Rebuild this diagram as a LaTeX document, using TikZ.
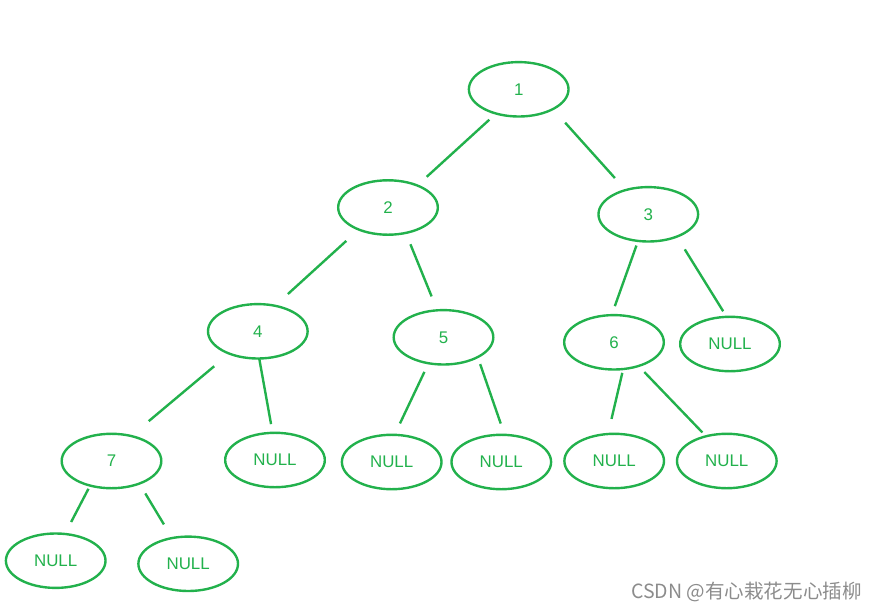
\documentclass[tikz,border=0pt]{standalone}
\usepackage{fontspec}
\setmainfont{Liberation Sans}
\newfontfamily\cjkfont{Noto Sans CJK SC}
\usetikzlibrary{shapes.geometric}
\definecolor{paintgreen}{RGB}{34,177,76}

\begin{document}
\begin{tikzpicture}[x=0.025cm,y=-0.025cm,
    treenode/.style={ellipse,draw=paintgreen,line width=1.7pt,
        minimum width=2.49cm,minimum height=1.36cm,inner sep=0pt,outer sep=0pt,
        text=paintgreen,font=\fontsize{12}{14}\selectfont},
    branch/.style={draw=paintgreen,line width=1.7pt}]

\useasboundingbox (0,0) rectangle (877,612);

% keys
\node[treenode] (n1) at (518.7,89.3)  {1};
\node[treenode] (n2) at (388,207.5)   {2};
\node[treenode] (n3) at (648.3,214.3) {3};
\node[treenode] (n4) at (257.8,331.3) {4};
\node[treenode] (n5) at (443.5,337.3) {5};
\node[treenode] (n6) at (614,342.3)   {6};
\node[treenode] (n7) at (111.5,461)   {7};

% null leaves
\node[treenode] (null3r) at (730,344)     {NULL};
\node[treenode] (null4r) at (275,460)     {NULL};
\node[treenode] (null5l) at (391.7,462)   {NULL};
\node[treenode] (null5r) at (501.3,462)   {NULL};
\node[treenode] (null6l) at (614.2,461)   {NULL};
\node[treenode] (null6r) at (726.8,461)   {NULL};
\node[treenode] (null7l) at (55.7,560.7)  {NULL};
\node[treenode] (null7r) at (188.2,563.8) {NULL};

% branches
\foreach \a/\p/\b/\q/\s/\t in {
    n1/227/n2/37/6.5/9.1,        n1/330/n3/133/13.0/11.5,
    n2/217/n4/56/12.0/12.4,      n2/305/n5/103/8.7/10.7,
    n3/249/n6/95/3.5/6.8,        n3/322/null3r/97/10.7/4.7,
    n4/218/n7/52/14.0/16.4,      n4/273/null4r/95/0/6.3,
    n5/240/null5l/84/6.8/9.0,    n5/330/null5r/83/5.3/8.5,
    n6/289/null6l/103/2.8/11.0,  n6/316/null6r/130/6.0/3.8,
    n7/229/null7l/71/2.6/9.6,    n7/321/null7r/122/8.2/11.3}
    \draw[branch,shorten <=\s pt,shorten >=\t pt] (\a.\p) -- (\b.\q);

% watermark
\node[anchor=east,inner sep=0pt,text=black!45,font=\cjkfont\fontsize{13.9}{16}\selectfont]
    (watermark) at (862,592) {CSDN @有心栽花无心插柳};

\end{tikzpicture}
\end{document}
